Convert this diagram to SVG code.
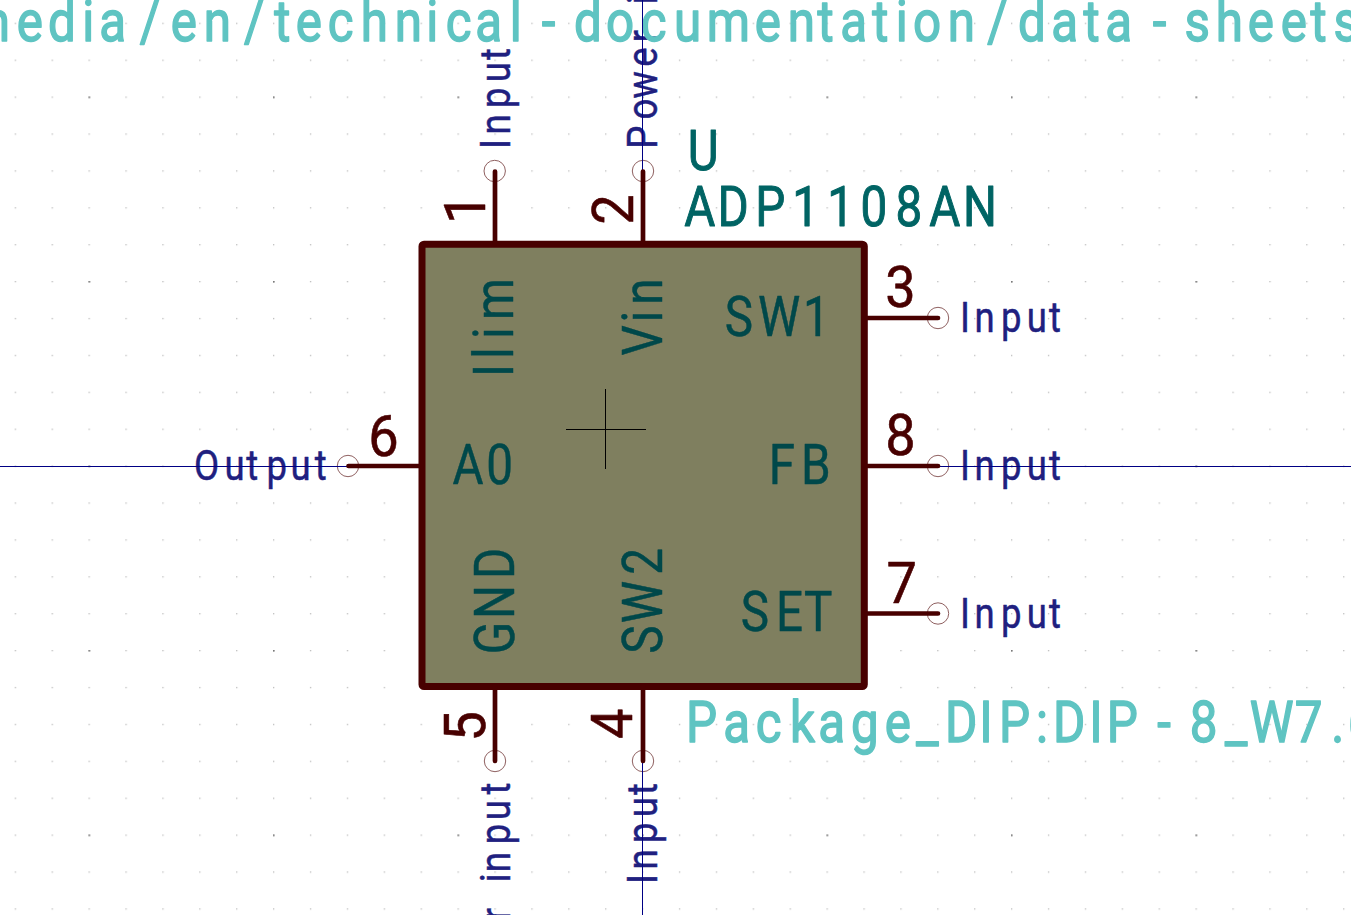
<svg xmlns="http://www.w3.org/2000/svg" width="1351" height="915" viewBox="0 0 1351 915">
<defs>
<style>
text{font-family:Roboto,"Liberation Sans",sans-serif;white-space:pre;stroke-linejoin:round}
.pinname{fill:#00484a;font-size:56px;stroke:#00484a;stroke-width:.5}
.pinnum{fill:#480000;font-size:57px;stroke:#480000;stroke-width:.6}
.etype{fill:#20207f;font-size:43px;stroke:#20207f;stroke-width:.45}
.ref{fill:#006464;font-size:56px;stroke:#006464;stroke-width:1}
.hid{fill:#5fc4c2;font-size:58px;stroke:#5fc4c2;stroke-width:1.5}
.pin{stroke:#480000;stroke-width:4.700;stroke-linecap:round;fill:none}
.end{stroke:#8f6060;stroke-width:1;fill:none}
.axis{stroke:#000084;stroke-width:1;fill:none}
</style>
<pattern id="grid" x="14.7" y="22.7" width="36.9" height="36.9" patternUnits="userSpaceOnUse"><rect width="1.3" height="1.3" fill="#bdbdbd"/></pattern>
<pattern id="major" x="273" y="96.500" width="184.500" height="184.500" patternUnits="userSpaceOnUse"><rect width="1.600" height="1.600" fill="#7a7a7a"/></pattern>
</defs>
<rect width="1351" height="915" fill="#fff"/>
<rect width="1351" height="915" fill="url(#grid)"/>
<rect width="1351" height="915" fill="url(#major)"/>
<g id="U-body">
<rect x="422" y="244.200" width="442.300" height="442.300" rx="2" fill="#7f7f5f" stroke="#480000" stroke-width="7"/>
<path d="M566 429.500H646M605.500 389V469" stroke="#000" stroke-width="1" fill="none"/>
</g>
<g id="pin1"><circle class="end" cx="494.700" cy="171" r="10.700"/>
<text class="pinnum" transform="translate(485 224) rotate(-90) scale(.95 1)">1</text>
<text class="etype" transform="translate(510 148) rotate(-90) scale(.85 1)" x="-1.300 15.800 47.100 77.300 103.500">Input</text>
<text class="pinname" transform="translate(513.300 376) rotate(-90) scale(.85 1)" x="-1.300 20 43.500 66">Ilim</text></g>
<g id="pin2"><circle class="end" cx="643" cy="171" r="10.700"/>
<text class="pinnum" transform="translate(633 222) rotate(-90) scale(.95 1)" x="-2.800">2</text>
<text class="etype" transform="translate(657 148) rotate(-90) scale(.85 1)" x="-.9 33.500 58.200 95.600 124.400 150 169.100 180.800 213.800 242.100 271.300">Power input</text>
<text class="pinname" transform="translate(661.500 356) rotate(-90) scale(.85 1)" x=".7 39.400 60.400">Vin</text></g>
<g id="pin3"><circle class="end" cx="938" cy="318" r="10.700"/>
<text class="pinnum" transform="translate(887.500 307) scale(.95 1)" x="-2.500">3</text>
<text class="etype" transform="translate(961 332) scale(.85 1)" x="-1.300 15.800 47.100 77.300 103.500">Input</text>
<text class="pinname" transform="scale(.85 1)" x="852.700 891.900 944.800" y="336">SW1</text></g>
<g id="pin8"><circle class="end" cx="938" cy="466" r="10.700"/>
<text class="pinnum" transform="translate(888 455) scale(.95 1)" x="-2.800">8</text>
<text class="etype" transform="translate(961 480) scale(.85 1)" x="-1.300 15.800 47.100 77.300 103.500">Input</text>
<text class="pinname" transform="scale(.85 1)" x="904.500 942.300" y="484">FB</text></g>
<g id="pin7"><circle class="end" cx="938" cy="613.500" r="10.700"/>
<text class="pinnum" transform="translate(888 603) scale(.95 1)" x="-1.700">7</text>
<text class="etype" transform="translate(961 628) scale(.85 1)" x="-1.300 15.800 47.100 77.300 103.500">Input</text>
<text class="pinname" transform="scale(.85 1)" x="871.500 913.100 946" y="631">SET</text></g>
<g id="pin6"><circle class="end" cx="348" cy="466" r="10.700"/>
<text class="pinnum" transform="translate(371 455.500) scale(.95 1)" x="-3">6</text>
<text class="etype" transform="translate(195 480) scale(.85 1)" x="-1.100 34.700 60.300 84 112.500 141">Output</text>
<text class="pinname" transform="scale(.85 1)" x="532.500 572" y="484">A0</text></g>
<g id="pin5"><circle class="end" cx="495" cy="761" r="10.700"/>
<text class="pinnum" transform="translate(485 738) rotate(-90) scale(.95 1)" x="-3.600">5</text>
<text class="etype" transform="translate(510 1026) rotate(-90) scale(.85 1)" x="-.9 33.500 58.200 95.600 124.400 150 169.100 180.800 213.800 242.100 272.500">Power input</text>
<text class="pinname" transform="translate(514 653) rotate(-90) scale(.85 1)" x="-1.400 40.100 87.200">GND</text></g>
<g id="pin4"><circle class="end" cx="643" cy="761" r="10.700"/>
<text class="pinnum" transform="translate(632 738) rotate(-90) scale(.95 1)" x="-1">4</text>
<text class="etype" transform="translate(657 883) rotate(-90) scale(.85 1)" x="-1.300 15.800 47.100 77.300 103.500">Input</text>
<text class="pinname" transform="translate(661.500 653) rotate(-90) scale(.85 1)" x="-.8 35 92">SW2</text></g>
<g id="U-labels">
<text class="ref" transform="scale(.85 1)" x="809" y="170">U</text>
<text class="ref" transform="scale(.85 1)" x="804.900 844.100 888.400 932 973.300 1012.300 1053.500 1093.300 1133" y="226">ADP1108AN</text>
<text class="hid" transform="scale(.85 1)" y="742" x="807 850.800 889.100 929.300 962.600 1001.100 1040.800 1078.100 1111.700 1152.200 1175.200 1218.900 1238.700 1281.600 1302.200 1361.600 1399.700 1441.100 1470.200 1523.200 1566.200 1585.500">Package_DIP:DIP-8_W7.6</text>
<text class="hid" transform="scale(.85 1)" y="41" x="-39 19.700 56.400 96.900 116.700 164.300 200.800 239.800 287.200 322.800 347.900 385.500 424.500 464.500 501.600 524.300 559.100 599.800 637.400 675.200 712.900 753.800 793 831.600 887.900 926.900 961.700 988.500 1026.300 1053.900 1074.100 1115.100 1161.400 1197.600 1236.700 1274.600 1300.200 1356.200 1393.500 1430.400 1467.900 1506.700 1541.700 1568.800">media/en/technical-documentation/data-sheets</text>
</g>
<g id="axes"><path class="axis" d="M0 466.500H419M867 466.500H1351M642.500 0V241M642.500 690V915"/></g>
<g id="connectors">
<path class="pin" d="M495 244V171.500M643 244V171.500M864 318H938M864 466H938M864 613.500H938M422 466H348.500M495 686V761M643 686V761"/>
</g>
</svg>
